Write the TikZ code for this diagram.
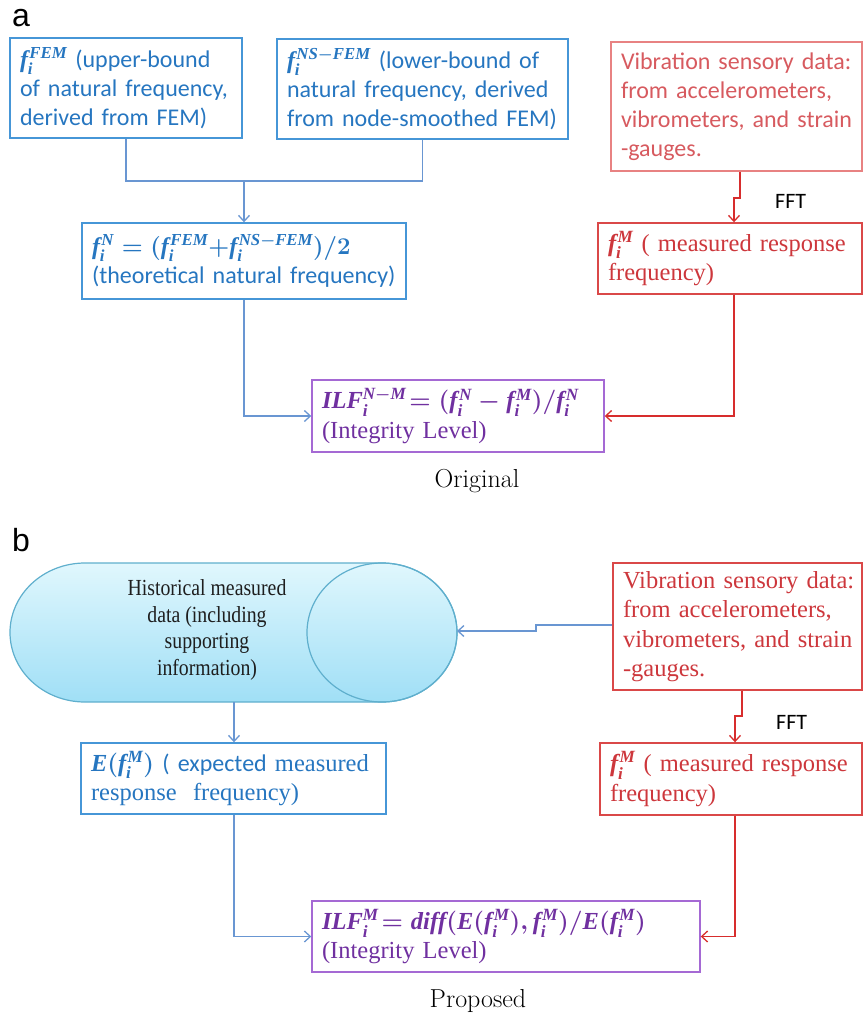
\RequirePackage{fix-cm}
\documentclass[tikz,border=0pt]{standalone}
\usepackage{fontspec}
\newfontfamily\calib{Carlito}
\newfontfamily\tnr{Liberation Serif}[NFSSFamily=lsrf]
\newfontfamily\tnrnarrow{Liberation Serif}[FakeStretch=0.86]
\newfontfamily\arl{Liberation Sans}
\DeclareMathAlphabet{\mathbi}{TU}{lsrf}{b}{it}
\usetikzlibrary{arrows.meta}

% bold italic frequency symbol f_i^{...}
\newcommand\fim[1]{\mathbi{f}_{\mathbi{i}}^{\kern1.5pt#1}}

\definecolor{bluetxt}{RGB}{38,118,192}
\definecolor{blueedge}{RGB}{70,150,215}
\definecolor{bluewire}{RGB}{105,150,210}
\definecolor{redtxt}{RGB}{205,55,60}
\definecolor{redtxtlight}{RGB}{215,90,95}
\definecolor{rededge}{RGB}{218,72,72}
\definecolor{rededgelight}{RGB}{232,130,130}
\definecolor{redwire}{RGB}{215,45,45}
\definecolor{purptxt}{RGB}{112,48,160}
\definecolor{purpedge}{RGB}{165,105,212}
\definecolor{cyltop}{RGB}{224,247,253}
\definecolor{cylbot}{RGB}{160,223,246}
\definecolor{cyledge}{RGB}{95,175,205}
\definecolor{cyltext}{RGB}{30,30,30}

\tikzset{
  box/.style={draw, rectangle, line width=1.4pt, inner xsep=10pt, inner ysep=0pt,
    align=left, anchor=center},
  cal/.style={font=\calib\fontsize{24}{29}\selectfont\boldmath},
  tim/.style={font=\tnr\fontsize{24.5}{29.5}\selectfont\boldmath},
  bluebox/.style={box, draw=blueedge, text=bluetxt},
  redbox/.style={box, draw=rededge, text=redtxt},
  redboxlight/.style={box, draw=rededgelight, text=redtxtlight},
  purpbox/.style={box, draw=purpedge, text=purptxt},
  wire/.style={line width=1.3pt},
  tip/.style={-{Straight Barb[length=6pt,width=11pt]}},
  bluewire/.style={wire, draw=bluewire},
  redwire/.style={wire, draw=redwire},
  caption/.style={font=\fontsize{26}{30}\selectfont},
  panel/.style={font=\arl\fontsize{32}{32}\selectfont, anchor=base west, inner sep=0pt},
  ffttext/.style={font=\calib\fontsize{22}{22}\selectfont, anchor=base west, inner sep=0pt}
}

\begin{document}
\begin{tikzpicture}[x=1pt,y=1pt]
\path[use as bounding box] (0,0) rectangle (864,-1017);

% ---------------- panel a ----------------
\node[panel] (la) at (12,-27) {a};

\node[bluebox, cal, minimum width=232pt, minimum height=100pt, text width=212pt] (fem) at (126,-88)
  {\mbox{$\fim{\mathbi{FEM}}$ (upper-bound}\\\mbox{of natural frequency,}\\\mbox{derived from FEM)}};
\node[bluebox, cal, minimum width=291pt, minimum height=100pt, text width=271pt] (nsfem) at (422.5,-89)
  {\mbox{$\fim{\mathbi{NS}-\mathbi{FEM}}$ (lower-bound of}\\\mbox{natural frequency, derived}\\\mbox{from node-smoothed FEM)}};
\node[redboxlight, cal, minimum width=251pt, minimum height=129pt, text width=231pt] (vibA) at (736.5,-106.5)
  {\mbox{Vibration sensory data:}\\\mbox{from accelerometers,}\\\mbox{vibrometers, and strain}\\\mbox{-gauges.}};
\node[bluebox, cal, minimum width=324pt, minimum height=76pt, text width=304pt] (theo) at (244,-261)
  {\mbox{$\fim{\mathbi{N}}=(\fim{\mathbi{FEM}}{+}\fim{\mathbi{NS}-\mathbi{FEM}})/2$}\\\mbox{(theoretical natural frequency)}};
\node[redbox, tim, minimum width=264pt, minimum height=71pt, text width=244pt] (measA) at (730,-258.5)
  {\mbox{$\fim{\mathbi{M}}$ ( measured response}\\\mbox{frequency)}};
\node[purpbox, tim, minimum width=292pt, minimum height=72pt, text width=272pt] (ilfA) at (458,-416)
  {\mbox{$\mathbi{ILF}_{\mathbi{i}}^{\mathbi{N}-\mathbi{M}}\!=(\fim{\mathbi{N}}-\fim{\mathbi{M}})/\fim{\mathbi{N}}$}\\\mbox{(Integrity Level)}};
\node[ffttext] (fftA) at (775,-208) {FFT};
\node[caption] (capA) at (477,-481) {Original};

\coordinate (merge) at (244,-181);
\coordinate (jA1) at (740,-198);
\coordinate (jA2) at (734,-198);

\draw[bluewire] (fem.south) |- (merge);
\draw[bluewire] (nsfem.south) |- (merge);
\draw[bluewire, tip] (merge) -- (theo.north -| merge);
\draw[bluewire, tip] (theo.south) |- (ilfA.west);
\draw[redwire, tip] (vibA.south -| jA1) -- (jA1) -- (jA2) -- (measA.north -| jA2);
\draw[redwire, tip] (measA.south -| jA2) |- (ilfA.east);

% ---------------- panel b ----------------
\node[panel] (lb) at (12,-551) {b};

% database drum
\shadedraw[top color=cyltop, bottom color=cylbot, draw=cyledge, line width=1.2pt]
  (85,-563) -- (382,-563)
  arc[start angle=90, end angle=-90, x radius=75pt, y radius=69.5pt]
  -- (85,-702)
  arc[start angle=270, end angle=90, x radius=75pt, y radius=69.5pt] -- cycle;
\draw[draw=cyledge, line width=1.2pt] (382,-632.5) ellipse[x radius=75pt, y radius=69.5pt];
\node[font=\tnrnarrow\fontsize{23}{26.8}\selectfont, text=cyltext, align=center] (hist) at (207,-630)
  {Historical measured\\data (including\\supporting\\information)};
\coordinate (cylE) at (457,-631);
\coordinate (cylS) at (234,-702);

\node[redbox, tim, minimum width=249pt, minimum height=127pt, text width=229pt] (vibB) at (737.5,-626.5)
  {\mbox{Vibration sensory data:}\\\mbox{from accelerometers,}\\\mbox{vibrometers, and strain}\\\mbox{-gauges.}};
\node[bluebox, tim, minimum width=305pt, minimum height=71pt, text width=285pt] (expB) at (233.5,-778.5)
  {\mbox{$\mathbi{E}(\fim{\mathbi{M}})$ {\calib\fontsize{24}{29}\selectfont ( expected} measured}\\\mbox{response\ \ frequency)}};
\node[redbox, tim, minimum width=262pt, minimum height=72pt, text width=242pt] (measB) at (731,-779)
  {\mbox{$\fim{\mathbi{M}}$ ( measured response}\\\mbox{frequency)}};
\node[purpbox, tim, minimum width=388pt, minimum height=71pt, text width=368pt] (ilfB) at (506,-936.5)
  {\mbox{$\mathbi{ILF}_{\mathbi{i}}^{\mathbi{M}}\!=\mathbi{diff}(\mathbi{E}(\fim{\mathbi{M}}),\fim{\mathbi{M}})/\mathbi{E}(\fim{\mathbi{M}})$}\\\mbox{(Integrity Level)}};
\node[ffttext] (fftB) at (776,-729) {FFT};
\node[caption] (capB) at (478,-1001) {Proposed};

\coordinate (jB0) at (536,-625);
\coordinate (jB1) at (536,-631);
\coordinate (jB2) at (742,-716);
\coordinate (jB3) at (735,-716);

\draw[bluewire, tip] (vibB.west |- jB0) -- (jB0) -- (jB1) -- (cylE);
\draw[bluewire, tip] (cylS) -- (expB.north -| cylS);
\draw[bluewire, tip] (expB.south -| cylS) |- (ilfB.west);
\draw[redwire, tip] (vibB.south -| jB2) -- (jB2) -- (jB3) -- (measB.north -| jB3);
\draw[redwire, tip] (measB.south -| jB3) |- (ilfB.east);
\end{tikzpicture}
\end{document}
